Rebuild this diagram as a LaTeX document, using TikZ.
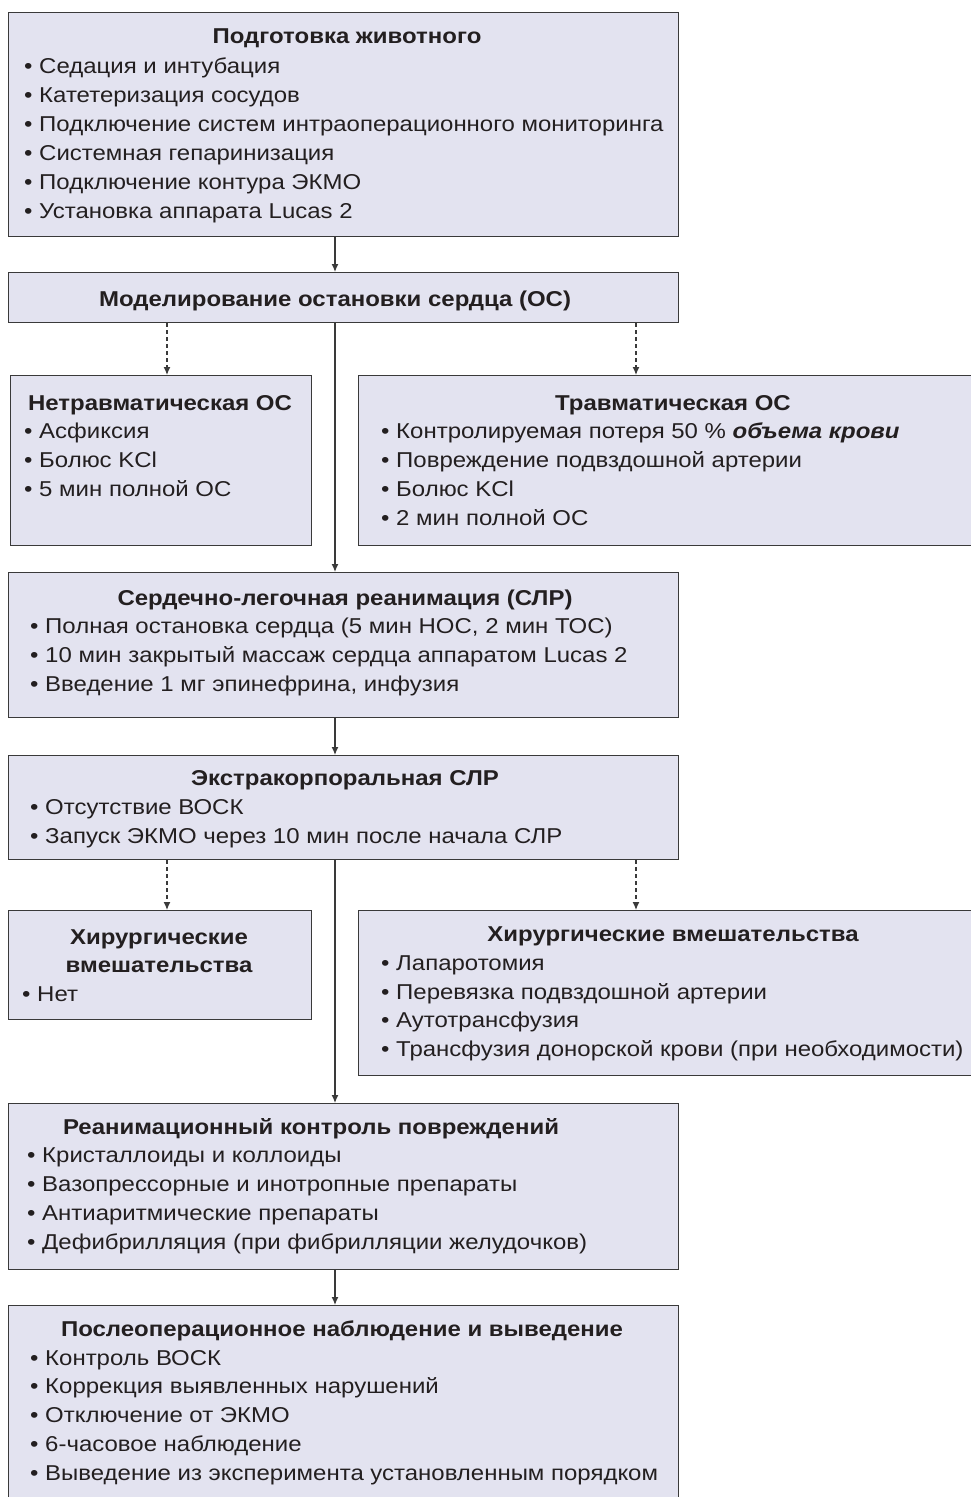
\documentclass[tikz,border=0pt]{standalone}
\usepackage{fontspec}
\setmainfont[FakeStretch=1.115]{Liberation Sans}
\usetikzlibrary{arrows.meta}
\definecolor{boxfill}{HTML}{E3E3F0}
\definecolor{boxline}{HTML}{3A3A3A}
\definecolor{txt}{HTML}{231F20}
\begin{document}
\begin{tikzpicture}[x=1pt,y=-1pt,
 box/.style={draw=boxline,fill=boxfill,line width=1.3pt,inner sep=0pt,anchor=north west},
 ttl/.style={font=\fontsize{21.5}{29}\selectfont\bfseries,text=txt,anchor=base,inner sep=0pt},
 itm/.style={font=\fontsize{21.5}{29}\selectfont,text=txt,anchor=base west,inner sep=0pt},
 arr/.style={draw=boxline,line width=1.3pt,-{Latex[length=8pt,width=7pt]}},
 darr/.style={arr,dash pattern=on 4pt off 3pt}]
\useasboundingbox (0,0) rectangle (970,1497);
\fill[white] (0,0) rectangle (970,1497);
\coordinate (sp) at (335,0);
\coordinate (dl) at (167,0);
\coordinate (dr) at (636,0);
% boxes
\node[box,minimum width=670pt,minimum height=224pt] (A) at (8,12) {};
\node[box,minimum width=670pt,minimum height=50pt] (B) at (8,272) {};
\node[box,minimum width=301pt,minimum height=170pt] (C) at (10,375) {};
\node[box,minimum width=615pt,minimum height=170pt] (D) at (358,375) {};
\node[box,minimum width=670pt,minimum height=145pt] (E) at (8,572) {};
\node[box,minimum width=670pt,minimum height=104pt] (F) at (8,755) {};
\node[box,minimum width=303pt,minimum height=109pt] (G) at (8,910) {};
\node[box,minimum width=615pt,minimum height=165pt] (H) at (358,910) {};
\node[box,minimum width=670pt,minimum height=166pt] (I) at (8,1103) {};
\node[box,minimum width=670pt,minimum height=200pt] (J) at (8,1305) {};
% connectors
\draw[arr] (A.south -| sp) -- (B.north -| sp);
\draw[arr] (B.south -| sp) -- (E.north -| sp);
\draw[darr] (B.south -| dl) -- (C.north -| dl);
\draw[darr] (B.south -| dr) -- (D.north -| dr);
\draw[arr] (E.south -| sp) -- (F.north -| sp);
\draw[arr] (F.south -| sp) -- (I.north -| sp);
\draw[darr] (F.south -| dl) -- (G.north -| dl);
\draw[darr] (F.south -| dr) -- (H.north -| dr);
\draw[arr] (I.south -| sp) -- (J.north -| sp);
% A
\node[ttl] (a0) at (347,43.5) {Подготовка животного};
\node[itm] (a1) at (24,73.5) {• Седация и интубация};
\node[itm] (a2) at (24,102.5) {• Катетеризация сосудов};
\node[itm] (a3) at (24,131.5) {• Подключение систем интраоперационного мониторинга};
\node[itm] (a4) at (24,160.5) {• Системная гепаринизация};
\node[itm] (a5) at (24,189.5) {• Подключение контура ЭКМО};
\node[itm] (a6) at (24,218.5) {• Установка аппарата Lucas 2};
% B
\node[ttl] (b0) at (335,306) {Моделирование остановки сердца (ОС)};
% C
\node[ttl] (c0) at (160,410) {Нетравматическая ОС};
\node[itm] (c1) at (24,438.5) {• Асфиксия};
\node[itm] (c2) at (24,467.5) {• Болюс KCl};
\node[itm] (c3) at (24,496.5) {• 5 мин полной ОС};
% D
\node[ttl] (d0) at (673,410) {Травматическая ОС};
\node[itm] (d1) at (381,438.5) {• Контролируемая потеря 50 \% {\bfseries\itshape объема крови}};
\node[itm] (d2) at (381,467.5) {• Повреждение подвздошной артерии};
\node[itm] (d3) at (381,496.5) {• Болюс KCl};
\node[itm] (d4) at (381,525.5) {• 2 мин полной ОС};
% E
\node[ttl] (e0) at (345,605.5) {Сердечно-легочная реанимация (СЛР)};
\node[itm] (e1) at (30,633.5) {• Полная остановка сердца (5 мин НОС, 2 мин ТОС)};
\node[itm] (e2) at (30,662.5) {• 10 мин закрытый массаж сердца аппаратом Lucas 2};
\node[itm] (e3) at (30,691.5) {• Введение 1 мг эпинефрина, инфузия};
% F
\node[ttl] (f0) at (345,785.5) {Экстракорпоральная СЛР};
\node[itm] (f1) at (30,814.5) {• Отсутствие ВОСК};
\node[itm] (f2) at (30,843.5) {• Запуск ЭКМО через 10 мин после начала СЛР};
% G
\node[ttl] (g0) at (159,944.5) {Хирургические};
\node[ttl] (g1) at (159,972.5) {вмешательства};
\node[itm] (g2) at (22,1001.5) {• Нет};
% H
\node[ttl] (h0) at (673,941.5) {Хирургические вмешательства};
\node[itm] (h1) at (381,970.5) {• Лапаротомия};
\node[itm] (h2) at (381,999.5) {• Перевязка подвздошной артерии};
\node[itm] (h3) at (381,1027.5) {• Аутотрансфузия};
\node[itm] (h4) at (381,1056.5) {• Трансфузия донорской крови (при необходимости)};
% I
\node[ttl] (i0) at (311,1134.5) {Реанимационный контроль повреждений};
\node[itm] (i1) at (27,1162.5) {• Кристаллоиды и коллоиды};
\node[itm] (i2) at (27,1191.5) {• Вазопрессорные и инотропные препараты};
\node[itm] (i3) at (27,1220.5) {• Антиаритмические препараты};
\node[itm] (i4) at (27,1249.5) {• Дефибрилляция (при фибрилляции желудочков)};
% J
\node[ttl] (j0) at (342,1336.5) {Послеоперационное наблюдение и выведение};
\node[itm] (j1) at (30,1365.5) {• Контроль ВОСК};
\node[itm] (j2) at (30,1393.5) {• Коррекция выявленных нарушений};
\node[itm] (j3) at (30,1422.5) {• Отключение от ЭКМО};
\node[itm] (j4) at (30,1451.5) {• 6-часовое наблюдение};
\node[itm] (j5) at (30,1480.5) {• Выведение из эксперимента установленным порядком};
\end{tikzpicture}
\end{document}
